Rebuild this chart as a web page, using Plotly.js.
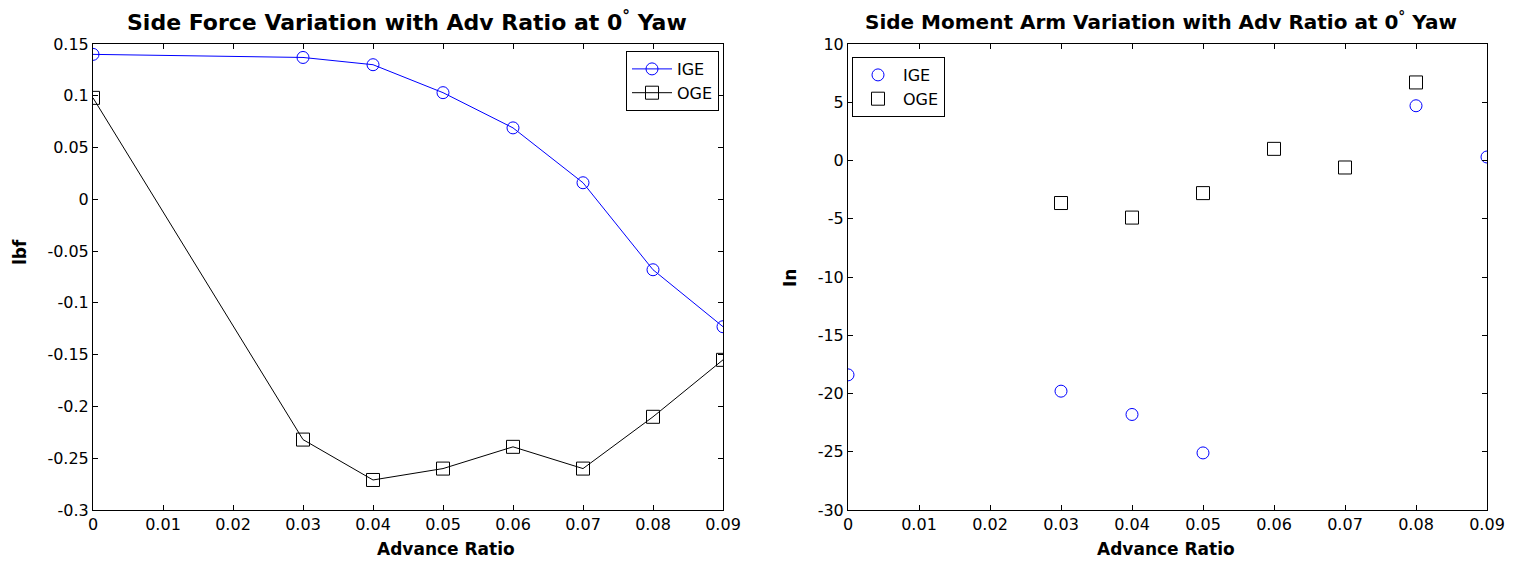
<!DOCTYPE html>
<html><head><meta charset="utf-8">
<script src="https://cdn.plot.ly/plotly-3.0.1.min.js"></script>
<style>html,body{margin:0;padding:0;background:#fff}#c{width:1523px;height:563px}</style>
</head><body><div id="c"></div>
<script>
const advRatio = [0, 0.03, 0.04, 0.05, 0.06, 0.07, 0.08, 0.09];
const forceIGE = [0.140, 0.137, 0.130, 0.103, 0.069, 0.016, -0.068, -0.123];
const forceOGE = [0.098, -0.232, -0.271, -0.260, -0.239, -0.260, -0.210, -0.155];
const armIGE = [-18.4, -19.8, -21.8, -25.1, null, null, 4.7, 0.3];
const armOGE = [null, -3.65, -4.9, -2.8, 1.0, -0.6, 6.7, null];
const xTicks = [0, 0.01, 0.02, 0.03, 0.04, 0.05, 0.06, 0.07, 0.08, 0.09];
const xTickText = ['0', '0.01', '0.02', '0.03', '0.04', '0.05', '0.06', '0.07', '0.08', '0.09'];
const yTicksL = [0.15, 0.1, 0.05, 0, -0.05, -0.1, -0.15, -0.2, -0.25, -0.3];
const yTickTextL = ['0.15', '0.1', '0.05', '0', '-0.05', '-0.1', '-0.15', '-0.2', '-0.25', '-0.3'];
const yTicksR = [10, 5, 0, -5, -10, -15, -20, -25, -30];
const yTickTextR = ['10', '5', '0', '-5', '-10', '-15', '-20', '-25', '-30'];

const W = 1523, H = 563;
const fnt = 'DejaVu Sans, Liberation Sans, sans-serif';
const blue = '#0000ff';

const traces = [
  {x: advRatio, y: forceIGE, name: 'IGE', mode: 'lines+markers', xaxis: 'x', yaxis: 'y',
   line: {color: blue, width: 1}, marker: {symbol: 'circle-open', size: 12, color: blue, line: {width: 1}}},
  {x: advRatio, y: forceOGE, name: 'OGE', mode: 'lines+markers', xaxis: 'x', yaxis: 'y',
   line: {color: '#000', width: 1}, marker: {symbol: 'square-open', size: 13, color: '#000', line: {width: 1}}},
  {x: advRatio, y: armIGE, name: 'IGE', mode: 'markers', xaxis: 'x2', yaxis: 'y2', legend: 'legend2',
   marker: {symbol: 'circle-open', size: 12, color: blue, line: {width: 1}}},
  {x: advRatio, y: armOGE, name: 'OGE', mode: 'markers', xaxis: 'x2', yaxis: 'y2', legend: 'legend2',
   marker: {symbol: 'square-open', size: 13, color: '#000', line: {width: 1}}}
];

const axBase = {showline: true, linecolor: '#000', linewidth: 1, mirror: 'ticks', ticks: 'inside',
  ticklen: 5, tickcolor: '#000', showgrid: false, zeroline: false, automargin: false,
  tickfont: {family: fnt, size: 16, color: '#000'}};
const labFont = {family: fnt, size: 17, color: '#000', weight: 'bold'};
const ttlFontL = {family: fnt, size: 22, color: '#000', weight: 'bold'};
const ttlFontR = {family: fnt, size: 20, color: '#000', weight: 'bold'};

const yTop = 1 - 44 / H, yBot = 1 - 510 / H;
const px = v => v / W, py = v => 1 - v / H;

const layout = {
  width: W, height: H, margin: {l: 0, r: 0, t: 0, b: 0},
  paper_bgcolor: '#fff', plot_bgcolor: '#fff', font: {family: fnt, color: '#000'},
  xaxis: Object.assign({}, axBase, {domain: [px(93), px(723)], range: [0, 0.09], tickvals: xTicks, ticktext: xTickText, anchor: 'y'}),
  yaxis: Object.assign({}, axBase, {domain: [yBot, yTop], range: [-0.3, 0.15], tickvals: yTicksL, ticktext: yTickTextL, anchor: 'x'}),
  xaxis2: Object.assign({}, axBase, {domain: [px(848), px(1487)], range: [0, 0.09], tickvals: xTicks, ticktext: xTickText, anchor: 'y2'}),
  yaxis2: Object.assign({}, axBase, {domain: [yBot, yTop], range: [-30, 10], tickvals: yTicksR, ticktext: yTickTextR, anchor: 'x2'}),
  legend: {x: px(719), xanchor: 'right', y: py(51), yanchor: 'top', bgcolor: '#fff', bordercolor: '#000', borderwidth: 1,
    font: {family: fnt, size: 16, color: '#000'}, tracegroupgap: 0, itemwidth: 40},
  legend2: {x: px(852), xanchor: 'left', y: py(57), yanchor: 'top', bgcolor: '#fff', bordercolor: '#000', borderwidth: 1,
    font: {family: fnt, size: 16, color: '#000'}, tracegroupgap: 0, itemwidth: 40},
  annotations: [
    {text: 'Side Force Variation with Adv Ratio at 0<sup>°</sup> Yaw', xref: 'paper', yref: 'paper',
     x: px(407), y: py(21), xanchor: 'center', yanchor: 'middle', showarrow: false, font: ttlFontL},
    {text: 'Side Moment Arm Variation with Adv Ratio at 0<sup>°</sup> Yaw', xref: 'paper', yref: 'paper',
     x: px(1161), y: py(21), xanchor: 'center', yanchor: 'middle', showarrow: false, font: ttlFontR},
    {text: 'Advance Ratio', xref: 'paper', yref: 'paper', x: px(446), y: py(549), xanchor: 'center', yanchor: 'middle',
     showarrow: false, font: labFont},
    {text: 'Advance Ratio', xref: 'paper', yref: 'paper', x: px(1166), y: py(549), xanchor: 'center', yanchor: 'middle',
     showarrow: false, font: labFont},
    {text: 'lbf', xref: 'paper', yref: 'paper', x: px(20), y: py(252), xanchor: 'center', yanchor: 'middle',
     textangle: -90, showarrow: false, font: labFont},
    {text: 'In', xref: 'paper', yref: 'paper', x: px(790), y: py(278), xanchor: 'center', yanchor: 'middle',
     textangle: -90, showarrow: false, font: labFont}
  ]
};

Plotly.newPlot('c', traces, layout, {staticPlot: true, displayModeBar: false});
</script></body></html>
